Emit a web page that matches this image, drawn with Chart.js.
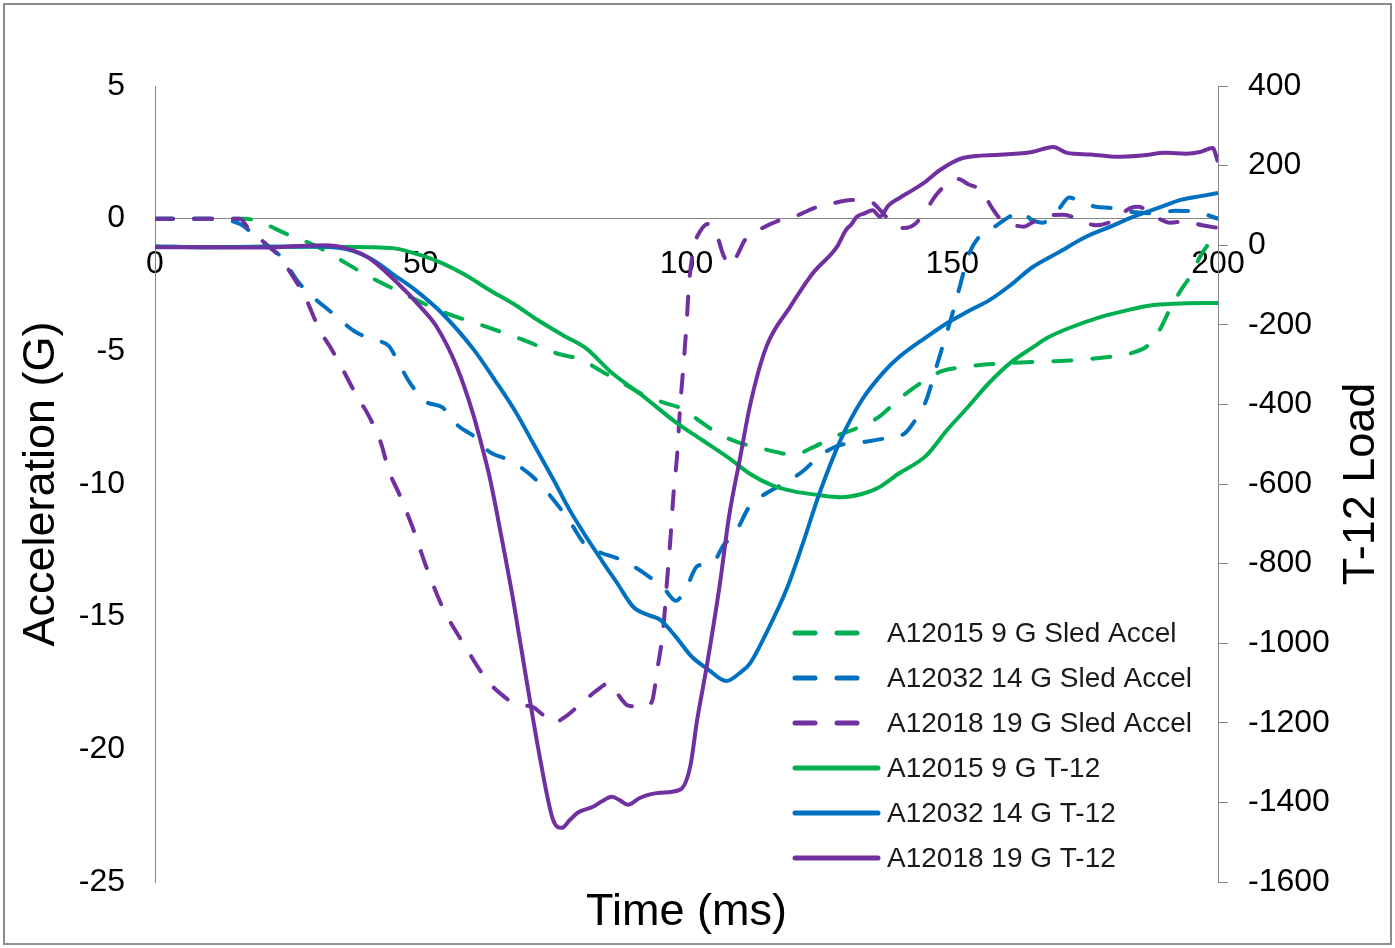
<!DOCTYPE html>
<html>
<head>
<meta charset="utf-8">
<script src="https://cdn.jsdelivr.net/npm/chart.js@4.4.1/dist/chart.umd.min.js"></script>
<style>
  html, body { margin: 0; padding: 0; background: #fff; }
  #wrap { position: relative; width: 1395px; height: 948px; }
  #frame { position: absolute; left: 3px; top: 3px; width: 1385px; height: 938px; border: 2px solid #8c8c8c; pointer-events: none; }
</style>
</head>
<body>
<div id="wrap">
  <canvas id="grafico" width="1395" height="948"></canvas>
  <div id="frame"></div>
</div>
<script>
(() => {
  // Textos del grafico
  const tituloX = "Time (ms)";
  const tituloEjeIzq = "Acceleration (G)";
  const tituloEjeDer = "T-12 Load";
  const etiquetas = [
    "A12015 9 G Sled Accel",
    "A12032 14 G Sled Accel",
    "A12018 19 G Sled Accel",
    "A12015 9 G T-12",
    "A12032 14 G T-12",
    "A12018 19 G T-12",
  ];

  // Ejes: minimo, maximo, paso
  const rangoX = [0, 200, 50];
  const rangoIzq = [-25, 5, 5];
  const rangoDer = [-1600, 400, 200];

  // A12015 9 G - aceleracion del trineo (G)
  const tSled9 = [0, 10, 17, 20, 25, 30, 34, 40, 47, 54, 62, 69, 76, 80, 84, 88, 92, 96, 99, 103, 106, 110, 113, 117, 120, 124, 128, 132, 136, 140, 144, 148, 152, 156, 160, 165, 172, 180, 184, 187, 189, 191, 193, 195, 197, 200];
  const gSled9 = [0, 0, 0, -0.15, -0.6, -1.0, -1.45, -2.15, -2.85, -3.5, -4.05, -4.55, -5.1, -5.3, -5.75, -6.2, -6.65, -6.95, -7.15, -7.7, -8.1, -8.45, -8.6, -8.8, -8.9, -8.6, -8.2, -7.9, -7.5, -6.8, -6.2, -5.75, -5.6, -5.5, -5.45, -5.4, -5.35, -5.2, -5.05, -4.75, -4.2, -3.4, -2.7, -2.1, -1.3, -0.55];

  // A12032 14 G - aceleracion del trineo (G)
  const tSled14 = [0, 10, 16, 18, 21, 24, 27, 30, 33, 35, 38, 42, 44, 46, 48, 51, 54, 57, 60, 63, 66, 69, 72, 75, 78, 81, 84, 87, 90, 93, 96, 98, 100, 102, 105, 107, 109, 112, 115, 119, 122, 125, 128, 131, 134, 138, 141, 143, 145, 147, 148.5, 150, 151.5, 153, 155, 158, 161, 163, 165, 167, 170, 172, 174, 177, 180, 184, 188, 192, 196, 200];
  const gSled14 = [0, 0, -0.2, -0.5, -1.0, -1.5, -2.4, -3.0, -3.5, -3.85, -4.3, -4.6, -4.8, -5.5, -6.2, -6.9, -7.1, -7.8, -8.2, -8.8, -9.05, -9.4, -9.9, -10.6, -11.4, -12.3, -12.6, -12.8, -13.1, -13.5, -14.0, -14.4, -13.9, -13.1, -12.95, -12.3, -11.9, -10.8, -10.35, -9.9, -9.5, -8.95, -8.6, -8.45, -8.4, -8.25, -8.1, -7.6, -6.9, -5.6, -4.6, -3.6, -2.5, -1.4, -0.7, -0.3, 0.1, 0.25, -0.05, -0.15, 0.35, 0.8, 0.65, 0.45, 0.4, 0.25, 0.2, 0.3, 0.25, 0];

  // A12018 19 G - aceleracion del trineo (G)
  const tSled19 = [0, 10, 16, 17.5, 20, 23.5, 26, 28, 31, 33, 35.5, 38, 40, 42.5, 44, 46, 48.5, 51, 54, 58, 62.5, 65, 68, 71, 73, 75, 77, 80, 83, 85.5, 87, 89, 92, 93.5, 94.5, 95.6, 96.3, 97, 97.6, 98.2, 98.8, 99.4, 100, 100.5, 101.5, 102.5, 104, 105.5, 107, 108.3, 109.5, 111, 113, 117, 120, 124, 127, 131, 134.5, 137, 139, 141, 143, 145, 147, 149, 151, 153, 155.5, 157.5, 159, 161, 163.5, 165, 168, 171, 174, 177, 180, 183.5, 185, 188, 191, 194, 197, 200];
  const gSled19 = [0, 0, 0, -0.35, -0.8, -1.45, -2.2, -2.85, -4.2, -4.85, -5.75, -6.7, -7.35, -8.45, -9.5, -10.4, -11.65, -13.1, -14.6, -16.0, -17.4, -17.9, -18.3, -18.4, -18.7, -19.0, -18.8, -18.3, -17.8, -17.5, -17.9, -18.35, -18.4, -18.2, -17.0, -15.5, -13.75, -12.0, -10.25, -9.0, -7.1, -5.6, -4.0, -2.4, -1.0, -0.5, -0.2, -0.5, -1.4, -1.75, -1.4, -0.8, -0.5, -0.1, 0.05, 0.4, 0.55, 0.7, 0.65, 0.2, -0.25, -0.35, -0.2, 0.3, 0.9, 1.3, 1.5, 1.3, 1.05, 0.4, 0, -0.2, -0.3, -0.15, 0.1, 0.15, -0.05, -0.25, -0.1, 0.4, 0.45, 0.1, -0.15, -0.1, -0.25, -0.35];

  // A12015 9 G - carga T-12
  const tT12_9 = [0, 10, 20, 30, 40, 45, 50, 54, 58, 63, 68, 72, 77, 81, 86, 92, 98, 103, 108, 112, 116, 120, 125, 129, 133, 136, 140, 145, 149, 153, 157, 161, 165, 168, 172, 178, 183, 187, 192, 200];
  const cT12_9 = [-3, -5, -4, -4, -5, -8, -25, -45, -72, -113, -152, -188, -228, -258, -321, -381, -445, -490, -535, -575, -603, -618, -628, -633, -625, -610, -573, -530, -465, -406, -345, -295, -258, -232, -208, -180, -163, -152, -147, -145];

  // A12032 14 G - carga T-12
  const tT12_14 = [0, 10, 20, 30, 36, 41, 45, 49, 54, 60, 64, 68, 71, 75, 78, 81, 84, 87, 90, 93, 95, 98, 101, 104, 107.5, 110, 112, 115, 119, 122, 125, 129, 133, 137, 140, 145, 149, 153, 157, 161, 165, 170, 175, 180, 184, 189, 193, 197, 200];
  const cT12_14 = [-3, -5, -4, -3, -10, -37, -75, -113, -171, -263, -340, -422, -494, -590, -665, -730, -791, -850, -909, -930, -941, -984, -1034, -1065, -1095, -1075, -1050, -975, -859, -745, -624, -489, -389, -320, -281, -232, -196, -166, -138, -100, -56, -18, 20, 48, 71, 95, 114, 124, 131];

  // A12018 19 G - carga T-12
  const tT12_19 = [0, 10, 20, 27, 32, 36, 40, 45, 50.5, 53, 56.8, 59.8, 61.7, 63, 65, 67.4, 70, 72.4, 74.9, 76.5, 78, 79.5, 82.4, 84, 86, 87.5, 89, 91.2, 95, 98.8, 100.7, 102, 103.8, 106.3, 108, 110, 112, 115, 119.5, 123.8, 128.3, 130, 131, 132, 133.5, 135, 136.4, 138, 140, 142.6, 145, 147.7, 152, 159, 165, 169, 171.6, 176, 181, 186, 190, 194, 196.6, 199, 200];
  const cT12_19 = [-5, -5, -6, -2, 0, -8, -30, -87, -163, -205, -306, -422, -515, -585, -720, -892, -1101, -1286, -1444, -1464, -1445, -1426, -1411, -1398, -1386, -1395, -1406, -1389, -1376, -1368, -1310, -1193, -1059, -849, -682, -540, -400, -256, -155, -70, -4, 38, 52, 71, 80, 88, 72, 100, 118, 139, 160, 189, 219, 227, 234, 247, 232, 228, 222, 226, 232, 230, 234, 244, 209];

  const verde = "#00B050";
  const azul = "#0070C0";
  const morado = "#7030A0";
  const gris = "#868686";
  const fuente = "'Liberation Sans', Arial, sans-serif";

  function puntos(tiempos, valores) {
    return tiempos.map((t, i) => ({ x: t, y: valores[i] }));
  }

  function serie(i, t, v, color, eje, rayada) {
    return {
      label: etiquetas[i],
      data: puntos(t, v),
      yAxisID: eje,
      borderColor: color,
      backgroundColor: color,
      borderWidth: 4,
      borderDash: rayada ? [18, 21] : [],
      borderCapStyle: rayada ? "round" : "butt",
      borderJoinStyle: "round",
      pointRadius: 0,
      fill: false,
      cubicInterpolationMode: "monotone",
      order: 6 - i,
    };
  }

  // Leyenda dentro del area del grafico
  const leyendaDentro = {
    id: "leyendaDentro",
    afterDatasetsDraw(chart) {
      const ctx = chart.ctx;
      ctx.save();
      chart.data.datasets.forEach((ds, i) => {
        const y = 633 + i * 45;
        ctx.beginPath();
        ctx.strokeStyle = ds.borderColor;
        ctx.lineWidth = 5;
        ctx.lineCap = "round";
        ctx.setLineDash(ds.borderDash.length ? [20, 22] : []);
        ctx.moveTo(795, y);
        ctx.lineTo(878, y);
        ctx.stroke();
        ctx.setLineDash([]);
        ctx.fillStyle = "#1a1a1a";
        ctx.font = "28px " + fuente;
        ctx.textBaseline = "middle";
        ctx.textAlign = "left";
        ctx.fillText(ds.label, 887, y + 1);
      });
      ctx.restore();
    },
  };

  // Titulo del eje derecho, leido de abajo hacia arriba
  const tituloDerecho = {
    id: "tituloDerecho",
    afterDraw(chart) {
      const { ctx, chartArea } = chart;
      ctx.save();
      ctx.translate(1362, (chartArea.top + chartArea.bottom) / 2);
      ctx.rotate(-Math.PI / 2);
      ctx.font = "45px " + fuente;
      ctx.fillStyle = "#000";
      ctx.textAlign = "center";
      ctx.textBaseline = "middle";
      ctx.fillText(tituloEjeDer, 0, 0);
      ctx.restore();
    },
  };

  const sinSeparador = (v) => String(v);

  new Chart(document.getElementById("grafico"), {
    type: "line",
    data: {
      datasets: [
        serie(0, tSled9, gSled9, verde, "y", true),
        serie(1, tSled14, gSled14, azul, "y", true),
        serie(2, tSled19, gSled19, morado, "y", true),
        serie(3, tT12_9, cT12_9, verde, "y1", false),
        serie(4, tT12_14, cT12_14, azul, "y1", false),
        serie(5, tT12_19, cT12_19, morado, "y1", false),
      ],
    },
    options: {
      responsive: false,
      animation: false,
      events: [],
      layout: { padding: { top: 86, bottom: 4, left: 0, right: 0 } },
      plugins: {
        legend: { display: false },
        tooltip: { enabled: false },
        title: {
          display: true,
          text: tituloX,
          position: "bottom",
          fullSize: false,
          color: "#000",
          font: { family: fuente, size: 45, weight: "normal" },
          padding: { top: 4, bottom: 4 },
        },
      },
      scales: {
        x: {
          type: "linear",
          position: { y: 0 },
          min: rangoX[0],
          max: rangoX[1],
          grid: { display: false, drawTicks: false },
          border: { display: true, color: gris, width: 1 },
          ticks: {
            stepSize: rangoX[2],
            autoSkip: false,
            maxRotation: 0,
            padding: 26,
            color: "#000",
            font: { family: fuente, size: 32 },
            callback: sinSeparador,
          },
        },
        y: {
          type: "linear",
          position: "left",
          min: rangoIzq[0],
          max: rangoIzq[1],
          afterFit: (s) => { s.width = 155; },
          grid: { display: false, drawTicks: false },
          border: { display: true, color: gris, width: 1 },
          ticks: {
            stepSize: rangoIzq[2],
            padding: 30,
            color: "#000",
            font: { family: fuente, size: 32 },
            callback: sinSeparador,
          },
          title: {
            display: true,
            text: tituloEjeIzq,
            color: "#000",
            font: { family: fuente, size: 45 },
            padding: { top: 15, bottom: 0 },
          },
        },
        y1: {
          type: "linear",
          position: "right",
          min: rangoDer[0],
          max: rangoDer[1],
          afterFit: (s) => { s.width = 177; },
          grid: { display: true, drawOnChartArea: false, drawTicks: true, tickLength: 10, color: gris, lineWidth: 1 },
          border: { display: true, color: gris, width: 1 },
          ticks: {
            stepSize: rangoDer[2],
            padding: 20,
            color: "#000",
            font: { family: fuente, size: 32 },
            callback: sinSeparador,
          },
        },
      },
    },
    plugins: [leyendaDentro, tituloDerecho],
  });
})();
</script>
</body>
</html>
